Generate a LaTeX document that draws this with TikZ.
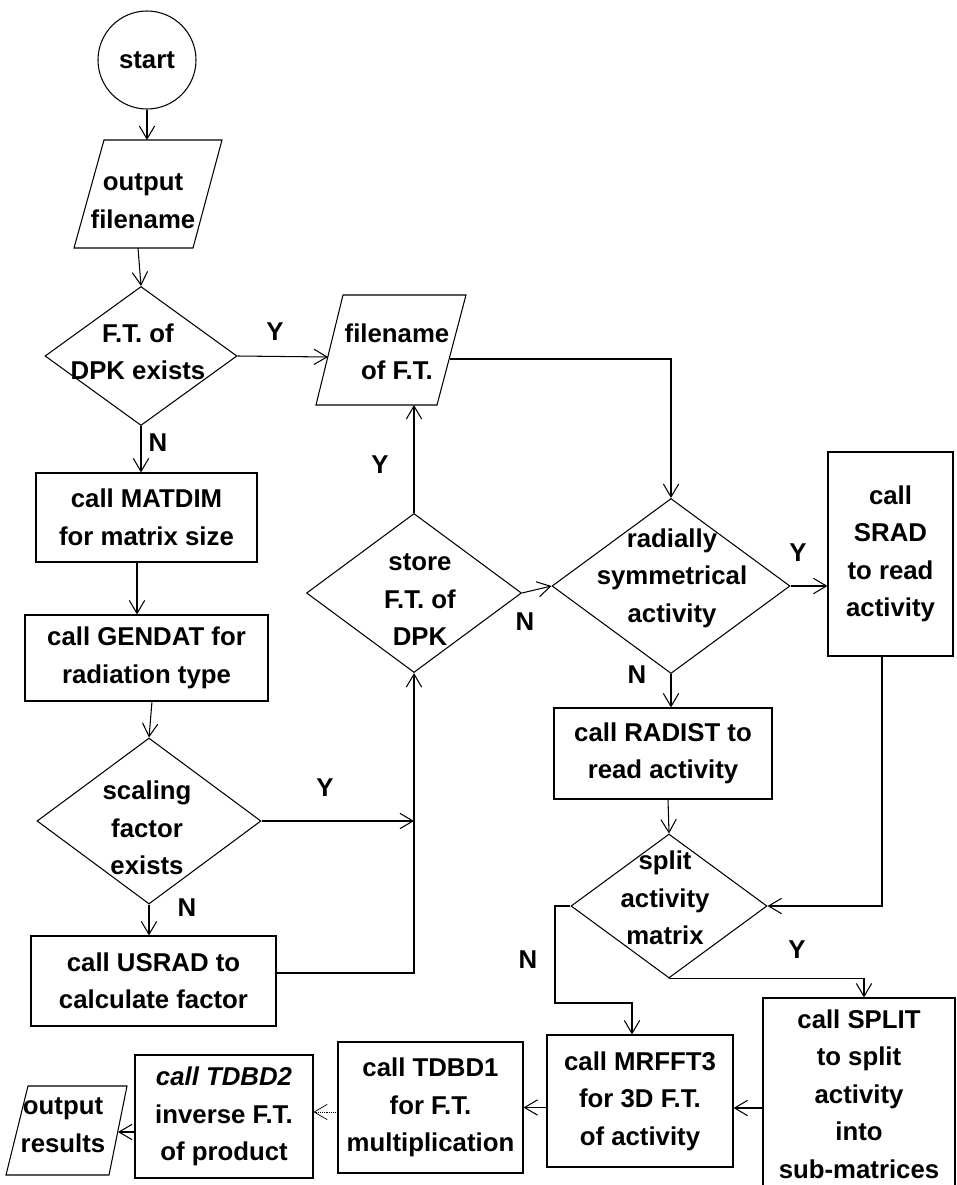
\documentclass[tikz,border=0pt]{standalone}
\usepackage{fontspec}
\setmainfont{Liberation Sans}
\usetikzlibrary{shapes.geometric,arrows.meta,calc}
\newdimen\pxu \pxu=0.03cm
\newcommand\chartfont{\fontsize{22}{32}\selectfont\bfseries}
\begin{document}
\begin{tikzpicture}[x=0.03cm, y=-0.03cm, line width=0.9pt,
  txt/.style={font=\chartfont, align=center, inner sep=0},
  lbl/.style={font=\chartfont, inner sep=0},
  box/.style={draw, rectangle, inner sep=1pt, font=\chartfont, align=center},
  dia/.style={draw, diamond, inner sep=0},
  arr/.style={-{Straight Barb[length=3.9mm,width=4.6mm]}}]
\useasboundingbox (0,0) rectangle (956,1185);

% start
\node[draw, circle, minimum size=98\pxu, inner sep=0, font=\chartfont] (start) at (147,60) {start};

% output filename
\draw (104,140) -- (222,140) -- (193,248) -- (74,248) -- cycle;
\node[txt] (out1) at (143,201) {output\\filename};
\coordinate (o1in) at (147,140);
\coordinate (o1out) at (138,248);

% decision F.T. of DPK exists
\node[dia, minimum width=192\pxu, minimum height=139\pxu] (d1) at (141,356) {};
\node[txt] (d1t) at (138,352) {F.T. of\\DPK exists};

% filename of F.T.
\draw (343,295) -- (466,295) -- (437,405) -- (316,405) -- cycle;
\node[txt] (fn) at (397,352) {filename\\of F.T.};
\coordinate (fnin) at (328,357);
\coordinate (fnout) at (450,359);
\coordinate (fnB) at (413,405);

% MATDIM / GENDAT
\node[box, minimum width=221\pxu, minimum height=89\pxu] (matdim) at (146.5,517.5) {call MATDIM\\for matrix size};
\node[box, minimum width=243\pxu, minimum height=86\pxu] (gendat) at (146.5,658) {call GENDAT for\\radiation type};

% scaling factor
\node[dia, minimum width=224\pxu, minimum height=166\pxu] (d2) at (149,821) {};
\node[txt] (d2t) at (147,828) {scaling\\factor\\exists};

% USRAD
\node[box, minimum width=245\pxu, minimum height=90\pxu] (usrad) at (153.5,981) {call USRAD to\\calculate factor};

% store F.T. of DPK
\node[dia, minimum width=215\pxu, minimum height=159\pxu] (store) at (414,593) {};
\node[txt] (storet) at (420,600) {store\\F.T. of\\DPK};

% radially symmetrical
\node[dia, minimum width=238\pxu, minimum height=175\pxu] (rad) at (671,586) {};
\node[txt] (radt) at (672,578) {radially\\symmetrical\\activity};

% SRAD
\node[box, minimum width=125\pxu, minimum height=204\pxu] (srad) at (890.5,554) {call\\SRAD\\to read\\activity};

% RADIST
\node[box, minimum width=218\pxu, minimum height=91\pxu] (radist) at (663,753.5) {call RADIST to\\read activity};

% split activity matrix
\node[dia, minimum width=196\pxu, minimum height=144\pxu] (split) at (669,906) {};
\node[txt] (splitt) at (665,898) {split\\activity\\matrix};

% SPLIT box
\node[box, minimum width=192\pxu, minimum height=192\pxu] (splitbox) at (859,1094) {call SPLIT\\to split\\activity\\into\\sub-matrices};

% MRFFT3
\node[box, minimum width=186\pxu, minimum height=132\pxu] (mrfft) at (640,1101) {call MRFFT3\\for 3D F.T.\\of activity};

% TDBD1
\node[box, minimum width=185\pxu, minimum height=131\pxu] (tdbd1) at (430.5,1107.5) {call TDBD1\\for F.T.\\multiplication};

% TDBD2
\node[box, minimum width=178\pxu, minimum height=123\pxu] (tdbd2) at (224,1116.5) {{\itshape call TDBD2}\\inverse F.T.\\of product};

% output results
\draw (28,1086) -- (127,1086) -- (109,1175) -- (6,1175) -- cycle;
\node[txt] (outres) at (63,1125) {output\\results};
\coordinate (orin) at (118,1132);

% connectors
\draw[arr] (start.south) -- (o1in);
\draw[arr] (o1out) -- (d1.north);
\draw[arr] (d1.east) -- (fnin);
\node[lbl] at (275,332) {Y};
\draw[arr] (fnout) -| (rad.north);
\draw[arr] (d1.south) -- (d1.south |- matdim.north);
\node[lbl] at (158,443) {N};
\draw[arr] ([xshift=-9.5\pxu]matdim.south) -- ([xshift=-9.5\pxu]matdim.south |- gendat.north);
\draw[arr] ([xshift=5.5\pxu]gendat.south) -- (d2.north);
\draw[arr] (d2.east) -- (d2.east -| store.south);
\node[lbl] at (325,788) {Y};
\draw[arr] (d2.south) -- (d2.south |- usrad.north);
\node[lbl] at (187,908) {N};
\draw[arr] ([yshift=8\pxu]usrad.east) -| (store.south);
\draw[arr] (store.north) -- (store.north |- fnB);
\node[lbl] at (380,465) {Y};
\draw[arr] (store.east) -- (rad.west);
\node[lbl] at (525,622) {N};
\draw[arr] (rad.east) -- (rad.east -| srad.west);
\node[lbl] at (798,553) {Y};
\draw[arr] (rad.south) -- (rad.south |- radist.north);
\node[lbl] at (637,675) {N};
\draw[arr] ([xshift=5\pxu]radist.south) -- (split.north);
\draw[arr] ([xshift=-8.5\pxu]srad.south) |- (split.east);
\coordinate (nb) at (555,1003);
\draw[arr] (split.west) -| (nb) -| ([xshift=-8\pxu]mrfft.north);
\node[lbl] at (528,960) {N};
\draw[arr] (split.south) -| ([xshift=5\pxu]splitbox.north);
\node[lbl] at (797,950) {Y};
\coordinate (a1) at ([yshift=-7\pxu]mrfft.east);
\draw[arr] (a1 -| splitbox.west) -- (a1);
\draw[arr] (tdbd1.east -| mrfft.west) -- (tdbd1.east);
\coordinate (a2) at ([yshift=4.5\pxu]tdbd2.east);
\draw[arr, densely dotted, line width=0.6pt] (a2 -| tdbd1.west) -- (a2);
\coordinate (a3) at ([yshift=-15.5\pxu]tdbd2.west);
\draw[arr] (a3) -- (orin);
\end{tikzpicture}
\end{document}
